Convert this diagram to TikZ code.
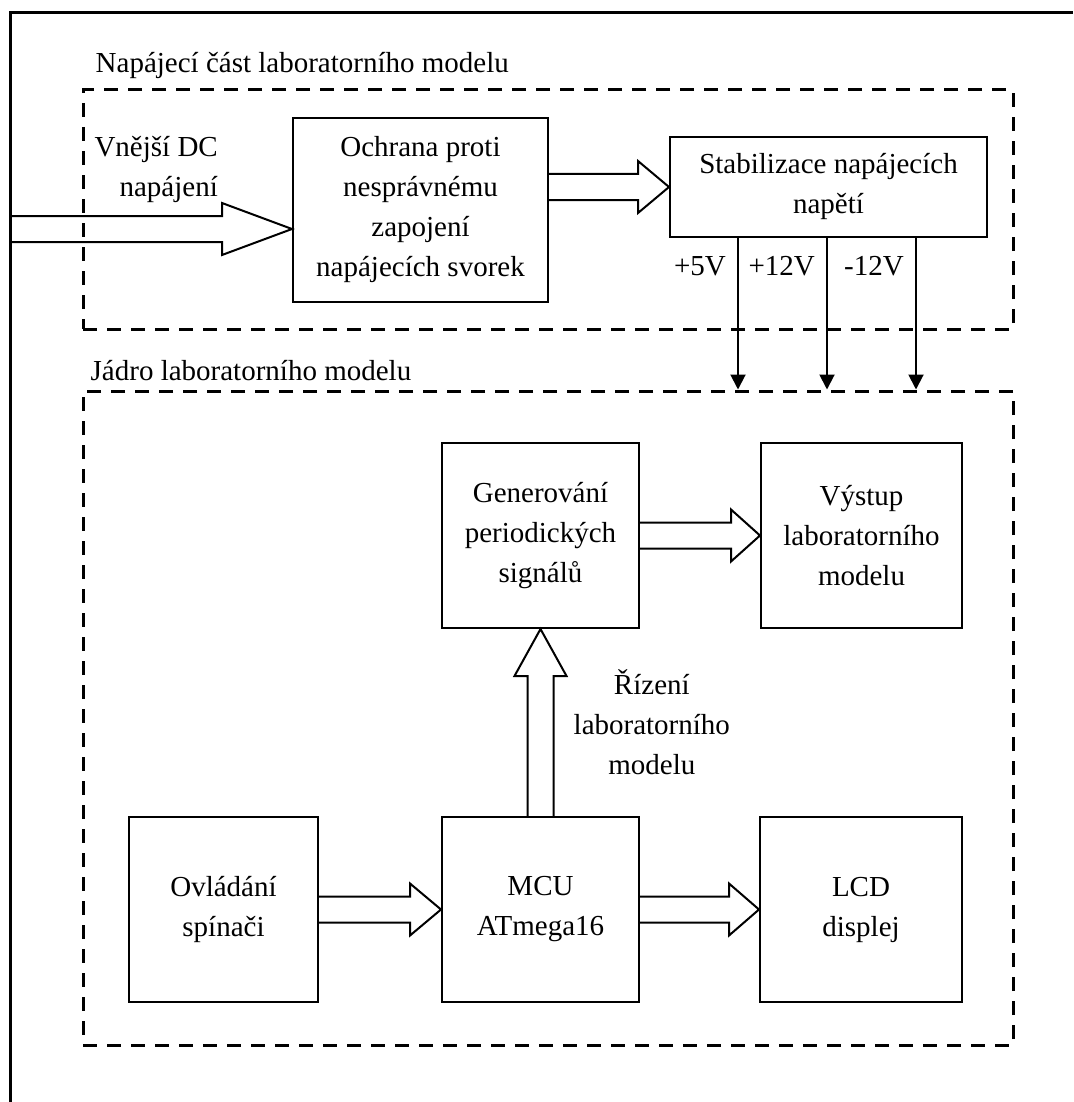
\documentclass[tikz,border=0pt]{standalone}
\usepackage{fontspec}
\setmainfont{Liberation Serif}
\usetikzlibrary{arrows.meta,calc,positioning}
\tikzset{
   outerline/.style = {line width=3pt},
   dashgroup/.style = {draw, line width=3pt, dash pattern=on 14pt off 10pt, inner sep=0pt},
       block/.style = {draw, line width=2pt, minimum width=197pt, minimum height=185pt,
                       align=center, inner sep=2pt},
         fat/.style = {line width=2pt, line join=miter},   % hollow block arrows
        rail/.style = {line width=2pt, -{Triangle[length=15pt,width=15pt]}},
         lbl/.style = {inner sep=2pt, align=center},
        }
% hollow arrow pointing right: from, tip, head length
\newcommand{\hfat}[3]{%
  \draw[fat] ($(#1)+(0pt,13pt)$) -- ($(#2)+(-#3,13pt)$) -- ($(#2)+(-#3,26pt)$) -- (#2)
     -- ($(#2)+(-#3,-26pt)$) -- ($(#2)+(-#3,-13pt)$) -- ($(#1)+(0pt,-13pt)$);}
% hollow arrow pointing up: from, tip, head length
\newcommand{\vfat}[3]{%
  \draw[fat] ($(#1)+(-13pt,0pt)$) -- ($(#2)+(-13pt,-#3)$) -- ($(#2)+(-26pt,-#3)$) -- (#2)
     -- ($(#2)+(26pt,-#3)$) -- ($(#2)+(13pt,-#3)$) -- ($(#1)+(13pt,0pt)$);}

\begin{document}
\begin{tikzpicture}[x=1pt,y=-1pt,font=\fontsize{29pt}{40pt}\selectfont]
\useasboundingbox (0,0) rectangle (1073,1102);
\draw[outerline] (10,1102) -- (10,13) -- (1073,13);

% groups
\node[dashgroup, minimum width=930pt, minimum height=239pt] (supply) at (548,209.5) {};
\node[dashgroup, minimum width=930pt, minimum height=654pt] (core) at (548,718) {};
\node[lbl, anchor=west] at ($(supply.north west)+(12pt,23pt)$) {Napájecí část laboratorního modelu};
\node[lbl, anchor=west] at ($(core.north west)+(7pt,19pt)$) {Jádro laboratorního modelu};

% supply part
\node[block, minimum width=255pt, minimum height=184pt] (ochrana) at (420.5,210)
   {Ochrana proti\\nesprávnému\\zapojení\\napájecích svorek};
\node[block, minimum width=317pt, minimum height=100pt] (stab) at (828.5,187)
   {Stabilizace napájecích\\napětí};
\coordinate (dcin) at (10,229);
\coordinate (ochin) at (ochrana.west |- dcin);
\coordinate (ochout) at (ochrana.east |- stab.west);
\node[lbl, anchor=east, align=right] (dclabel) at (220,169) {Vnější DC\\napájení};
\hfat{dcin}{ochin}{70pt}
\hfat{ochout}{stab.west}{31pt}

% core
\node[block] (gen) at (540.5,535.5) {Generování\\periodických\\signálů};
\node[block, minimum width=201pt, right=120pt of gen] (vystup) {Výstup\\laboratorního\\modelu};
\node[block, below=187pt of gen] (mcu) {MCU\\ATmega16};
\node[block, minimum width=189pt, left=122pt of mcu] (ovl) {Ovládání\\spínači};
\node[block, minimum width=202pt, right=119pt of mcu] (lcd) {LCD\\displej};

\hfat{gen.east}{vystup.west}{29pt}
\vfat{mcu.north}{gen.south}{47pt}
\node[lbl, right=31pt] (rizeni) at ($(mcu.north)!0.5!(gen.south)$) {Řízení\\laboratorního\\modelu};
\hfat{ovl.east}{mcu.west}{31pt}
\hfat{mcu.east}{lcd.west}{30pt}

% supply rails
\foreach \dx/\volt [count=\i] in {-90.5/+5V,-1.5/+12V,87.5/-12V}{
  \coordinate (r\i) at ($(stab.south)+(\dx pt,0pt)$);
  \draw[rail] (r\i) -- (r\i |- core.north);
  \node[lbl, left=10pt] at ($(r\i)+(0pt,-28pt)$) {\volt};
}
\end{tikzpicture}
\end{document}
